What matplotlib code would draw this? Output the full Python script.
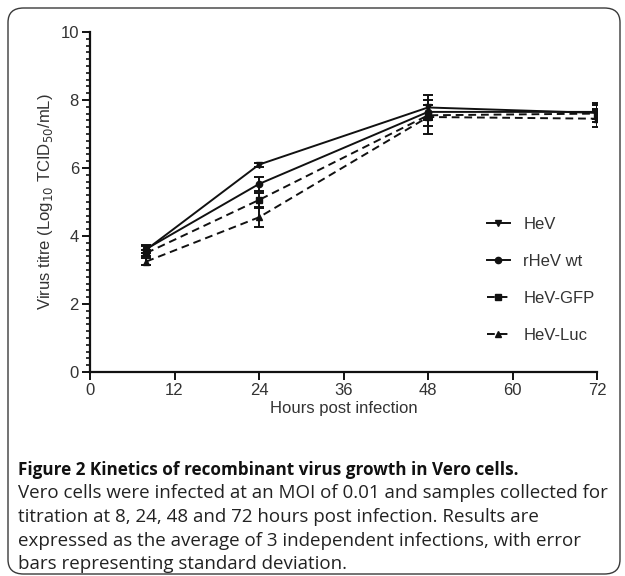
import matplotlib
matplotlib.use("Agg")
import matplotlib.pyplot as plt
from matplotlib.patches import FancyBboxPatch
from matplotlib.lines import Line2D
from matplotlib.ticker import MultipleLocator

hours = [8, 24, 48, 72]
series = ["HeV", "rHeV wt", "HeV-GFP", "HeV-Luc"]
hev = [3.60, 6.10, 7.78, 7.62]
rhev_wt = [3.62, 5.53, 7.65, 7.65]
hev_gfp = [3.50, 5.06, 7.55, 7.60]
hev_luc = [3.25, 4.55, 7.50, 7.45]
hev_sd = [0.10, 0.06, 0.38, 0.28]
rhev_wt_sd = [0.12, 0.20, 0.20, 0.20]
hev_gfp_sd = [0.10, 0.20, 0.30, 0.15]
hev_luc_sd = [0.10, 0.28, 0.50, 0.25]
x_ticks = [0, 12, 24, 36, 48, 60, 72]
y_ticks = [0, 2, 4, 6, 8, 10]

caption_title = "Figure 2 Kinetics of recombinant virus growth in Vero cells."
caption_lines = [
    "Vero cells were infected at an MOI of 0.01 and samples collected for",
    "titration at 8, 24, 48 and 72 hours post infection. Results are",
    "expressed as the average of 3 independent infections, with error",
    "bars representing standard deviation.",
]

W, H = 625, 576
fig = plt.figure(figsize=(W / 100, H / 100), dpi=100)
plt.rcParams['font.family'] = ['Liberation Sans', 'DejaVu Sans']

def fx(px):
    return px / W

def fy(py):
    return 1 - py / H

# caption frame
frame = FancyBboxPatch((fx(8), fy(574)), fx(612), (574 - 8) / H,
                       boxstyle="round,pad=0,rounding_size=0.025",
                       transform=fig.transFigure, fill=False,
                       edgecolor="#3a3a3a", linewidth=1.0)
fig.patches.append(frame)

ax = fig.add_axes([fx(90), fy(372), fx(597 - 90), (372 - 32) / H])

values = [hev, rhev_wt, hev_gfp, hev_luc]
sds = [hev_sd, rhev_wt_sd, hev_gfp_sd, hev_luc_sd]
markers = ["v", "o", "s", "^"]
dash = (0, (4, 2.5))
styles = ["-", "-", dash, dash]
handles = []
for name, v, sd, m, ls in zip(series, values, sds, markers, styles):
    ax.errorbar(hours, v, yerr=sd, color="#111111", marker=m, markersize=4.5,
                linestyle=ls, linewidth=1.4, elinewidth=1.4, capsize=3.5,
                capthick=1.4)
    handles.append(Line2D([], [], color="#111111", marker=m, markersize=4.5,
                          linestyle=ls, linewidth=1.4, label=name))

ax.set_xlim(0, 72)
ax.set_ylim(0, 10)
ax.set_xticks(x_ticks)
ax.set_yticks(y_ticks)
ax.yaxis.set_minor_locator(MultipleLocator(0.2))
for s in ["top", "right"]:
    ax.spines[s].set_visible(False)
for s in ["left", "bottom"]:
    ax.spines[s].set_linewidth(1.6)
    ax.spines[s].set_color("#111111")
ax.tick_params(axis="both", which="major", length=6, width=1.4,
               labelsize=12, labelcolor="#333333", color="#111111", pad=2)
ax.tick_params(axis="y", which="minor", length=3, width=1.2, color="#111111")
ax.set_xlabel("Hours post infection", fontsize=12, color="#333333", labelpad=2)
ax.set_ylabel("Virus titre (Log$_{10}$ TCID$_{50}$/mL)", fontsize=12,
              color="#333333", labelpad=4)

leg = ax.legend(handles=handles, loc="upper left",
                bbox_to_anchor=(fx(480), fy(210)),
                bbox_transform=fig.transFigure, frameon=False, fontsize=12,
                handlelength=1.4, labelspacing=1.33, handletextpad=0.8,
                borderaxespad=0)
for t in leg.get_texts():
    t.set_color("#333333")

cap_family = ['Open Sans', 'DejaVu Sans']
fig.text(fx(18), fy(470), caption_title, fontsize=12.3, fontweight="bold",
         family=cap_family, color="#111111", va="center", ha="left")
for i, line in enumerate(caption_lines):
    fig.text(fx(18), fy(493.5 + 23.5 * i), line, fontsize=13.5,
             family=cap_family, color="#222222", va="center", ha="left")

fig.savefig("out.png", dpi=100)
